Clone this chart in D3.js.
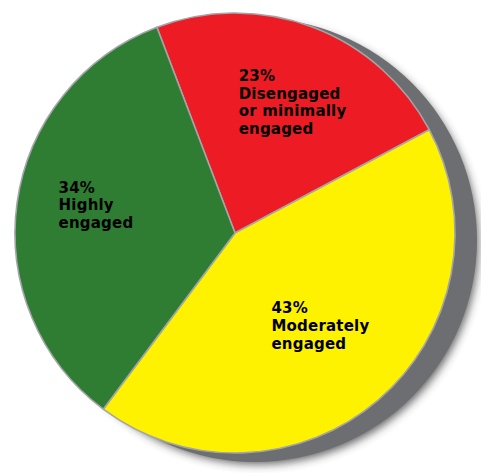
<!DOCTYPE html>
<html>
<head>
<meta charset="utf-8">
<script src="https://cdn.jsdelivr.net/npm/d3@7"></script>
<style>
  html, body { margin: 0; padding: 0; background: #ffffff; }
  svg { display: block; }
  text { font-family: "DejaVu Sans", Verdana, sans-serif; font-weight: bold; }
</style>
</head>
<body>
<svg id="chart" width="481" height="473"></svg>
<script>
// ---- data ----
const categories = ["Disengaged or minimally engaged", "Moderately engaged", "Highly engaged"];
const values = [23, 43, 34];
const labelLines = [
  ["23%", "Disengaged", "or minimally", "engaged"],
  ["43%", "Moderately", "engaged"],
  ["34%", "Highly", "engaged"]
];
const colors = ["#ed1c24", "#fff200", "#2e7d32"];

// ---- layout ----
const W = 481, H = 473;
const cx = 235, cy = 233, R = 220;
const startDeg = -20.8;
const labelNudge = [[8, -20.2], [-6.2, -26.6], [0.4, -20.7]];
const lineH = 17.7;

const svg = d3.select("#chart");
const defs = svg.append("defs");
const blur = defs.append("filter").attr("id", "blur")
  .attr("x", "-20%").attr("y", "-20%").attr("width", "140%").attr("height", "140%");
blur.append("feGaussianBlur").attr("stdDeviation", 5);

// soft drop shadow
svg.append("circle")
  .attr("cx", cx + 23).attr("cy", cy + 11).attr("r", R)
  .attr("fill", "#333").attr("opacity", 0.8)
  .attr("filter", "url(#blur)");
// gray depth disk
svg.append("circle")
  .attr("cx", cx + 20).attr("cy", cy + 7).attr("r", R + 2)
  .attr("fill", "#6d6e71");

const pie = d3.pie().sort(null).value(d => d)
  .startAngle(startDeg * Math.PI / 180)
  .endAngle(startDeg * Math.PI / 180 + 2 * Math.PI);
const arcs = pie(values);
const arc = d3.arc().innerRadius(0).outerRadius(R);
const labelArc = d3.arc().innerRadius(R * 0.64).outerRadius(R * 0.64);

const g = svg.append("g").attr("transform", `translate(${cx},${cy})`);
g.selectAll("path.slice").data(arcs).enter().append("path")
  .attr("class", "slice")
  .attr("d", arc)
  .attr("fill", (d, i) => colors[i])
  .attr("stroke", "#a3a5a8")
  .attr("stroke-width", 1.6)
  .attr("stroke-linejoin", "round");

arcs.forEach((d, i) => {
  const c = labelArc.centroid(d);
  const t = g.append("text")
    .attr("font-size", "15px")
    .attr("letter-spacing", "0.2px")
    .attr("fill", "#000");
  labelLines[i].forEach((ln, j) => {
    t.append("tspan").attr("x", 0).attr("y", j * lineH).text(ln);
  });
  const w = t.node().getBBox().width;
  const x = c[0] - w / 2 + labelNudge[i][0];
  const y = c[1] + labelNudge[i][1];
  t.selectAll("tspan").attr("x", x).attr("y", (dd, j) => y + j * lineH);
});
</script>
</body>
</html>
